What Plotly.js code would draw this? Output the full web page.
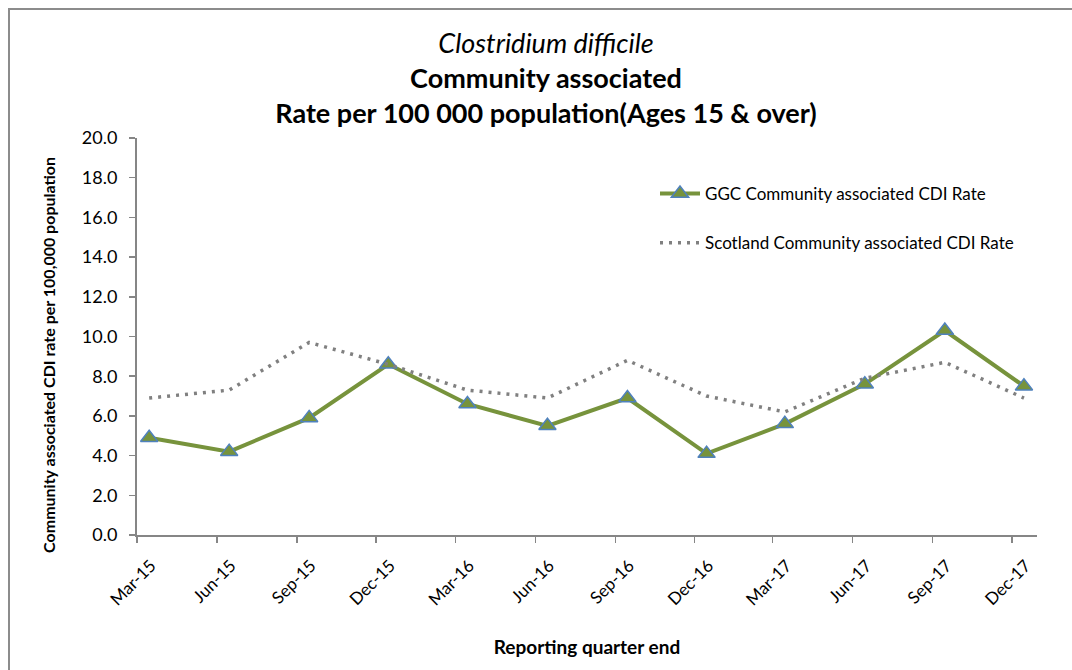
<!DOCTYPE html>
<html>
<head>
<meta charset="utf-8">
<script src="https://cdn.plot.ly/plotly-3.0.1.min.js"></script>
<style>
  html, body { margin: 0; padding: 0; background: #ffffff; overflow: hidden; }
  #frame { position: absolute; left: 8px; top: 8px; width: 1400px; height: 1000px;
           border-left: 2px solid #8c8c8c; border-top: 2px solid #8c8c8c; z-index: 0; }
  #chart { position: absolute; left: 0; top: 0; width: 1072px; height: 670px; z-index: 1; }
</style>
</head>
<body>
<div id="frame"></div>
<div id="chart"></div>
<script>
// Quarter-end categories (plotted mid-month on a date axis, as in the original)
const quarterDates = ["2015-03-15","2015-06-15","2015-09-15","2015-12-15",
                      "2016-03-15","2016-06-15","2016-09-15","2016-12-15",
                      "2017-03-15","2017-06-15","2017-09-15","2017-12-15"];
const tickDates = ["2015-03-01","2015-06-01","2015-09-01","2015-12-01",
                   "2016-03-01","2016-06-01","2016-09-01","2016-12-01",
                   "2017-03-01","2017-06-01","2017-09-01","2017-12-01"];
const tickLabels = ["Mar-15","Jun-15","Sep-15","Dec-15","Mar-16","Jun-16",
                    "Sep-16","Dec-16","Mar-17","Jun-17","Sep-17","Dec-17"];
const ggcRate = [4.9, 4.2, 5.9, 8.6, 6.6, 5.5, 6.9, 4.1, 5.6, 7.6, 10.3, 7.5];
const scotlandRate = [6.9, 7.3, 9.7, 8.6, 7.3, 6.9, 8.8, 7.0, 6.2, 7.9, 8.7, 6.9];
const yTicks = [0, 2, 4, 6, 8, 10, 12, 14, 16, 18, 20];

const FONT = "Lato, 'Open Sans', sans-serif";

const traces = [
  {
    x: quarterDates, y: ggcRate,
    type: "scatter", mode: "lines+markers",
    name: "GGC Community associated CDI Rate",
    legendgroup: "a",
    line: { color: "#77933C", width: 4 },
    marker: { symbol: "triangle-up", size: 15, color: "#77933C",
              line: { color: "#4F81BD", width: 1.5 } },
    hoverinfo: "skip"
  },
  {
    x: quarterDates, y: scotlandRate,
    type: "scatter", mode: "lines",
    name: "Scotland Community associated CDI Rate",
    legendgroup: "b",
    line: { color: "#808080", width: 3.5, dash: "3px,6px" },
    hoverinfo: "skip"
  }
];

const layout = {
  width: 1072, height: 670,
  paper_bgcolor: "rgba(0,0,0,0)", plot_bgcolor: "rgba(0,0,0,0)",
  margin: { l: 137, r: 35, t: 138, b: 135 },
  font: { family: FONT, color: "#000000" },
  showlegend: true,
  title: {
    text: "<i>Clostridium difficile</i><br><b>Community associated</b><br><b>Rate per 100 000 population(Ages 15 &amp; over)</b>",
    font: { family: FONT, size: 27, color: "#000000" },
    x: 546 / 1072, xref: "container", xanchor: "center",
    y: 1 - 53 / 670, yref: "container", yanchor: "top"
  },
  xaxis: {
    type: "date",
    range: ["2015-03-01", "2017-12-30"],
    tickvals: tickDates, ticktext: tickLabels,
    tickangle: -45,
    tickfont: { family: FONT, size: 17, color: "#000000" },
    ticks: "outside", ticklen: 6, tickcolor: "#868686", tickwidth: 1.5,
    ticklabelshift: 14, ticklabelstandoff: 6,
    showline: true, linecolor: "#868686", linewidth: 2,
    showgrid: false, zeroline: false,
    title: { text: "<b>Reporting quarter end</b>",
             font: { family: FONT, size: 19, color: "#000000" }, standoff: 32 }
  },
  yaxis: {
    range: [0, 20],
    tickvals: yTicks,
    tickformat: ".1f",
    tickfont: { family: FONT, size: 18, color: "#000000" },
    ticks: "outside", ticklen: 6, tickcolor: "#868686", tickwidth: 1.5,
    ticklabelstandoff: 8,
    showline: true, linecolor: "#868686", linewidth: 2,
    showgrid: false, zeroline: false,
    title: { text: "<b>Community associated CDI rate per 100,000 population</b>&nbsp;&nbsp;&nbsp;&nbsp;&nbsp;&nbsp;&nbsp;&nbsp;&nbsp;",
             font: { family: FONT, size: 16, color: "#000000" }, standoff: 22 }
  },
  legend: {
    x: (655 - 137) / 900, xanchor: "left",
    y: (535 - 176) / 397, yanchor: "top",
    bgcolor: "rgba(0,0,0,0)",
    font: { family: FONT, size: 17, color: "#000000" },
    traceorder: "grouped", tracegroupgap: 24,
    itemwidth: 40
  }
};

Plotly.newPlot("chart", traces, layout, { displayModeBar: false, staticPlot: true });
</script>
</body>
</html>
